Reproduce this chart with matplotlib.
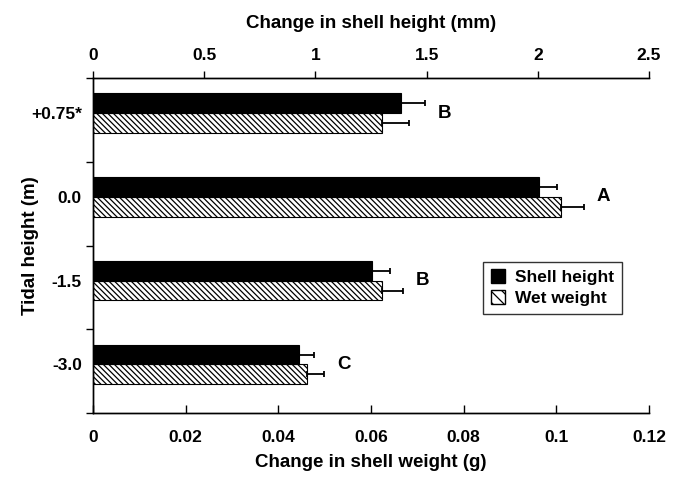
import matplotlib
matplotlib.use("Agg")
import matplotlib.pyplot as plt
import matplotlib.transforms as mtransforms
from matplotlib.patches import Patch
import numpy as np

plt.rcParams['font.family'] = ['Liberation Sans', 'DejaVu Sans']
plt.rcParams['font.weight'] = 'bold'
plt.rcParams['hatch.linewidth'] = 0.9

# Data
tidal_labels = ["+0.75*", "0.0", "-1.5", "-3.0"]
shell_height = [1.387, 2.005, 1.256, 0.926]        # mm (top axis)
shell_height_err = [0.105, 0.082, 0.078, 0.066]
wet_weight = [0.0624, 0.1009, 0.0624, 0.0462]      # g (bottom axis)
wet_weight_err = [0.0058, 0.0050, 0.0045, 0.0037]
letters = ["B", "A", "B", "C"]

height_max = 2.5
weight_max = 0.12
height_ticks = [0, 0.5, 1, 1.5, 2, 2.5]
height_ticklabels = ["0", "0.5", "1", "1.5", "2", "2.5"]
weight_ticks = [0, 0.02, 0.04, 0.06, 0.08, 0.1, 0.12]
weight_ticklabels = ["0", "0.02", "0.04", "0.06", "0.08", "0.1", "0.12"]

fig = plt.figure(figsize=(6.81, 4.8), dpi=100)
ax = fig.add_axes([93 / 681, 1 - 413 / 480, (649 - 93) / 681, (413 - 78) / 480])
ax2 = ax.twiny()

n = len(tidal_labels)
centers = np.arange(n) + 0.42
bh = 0.235

# Hatched bars: wet weight on bottom axis
ax.barh(centers + bh / 2, wet_weight, height=bh, color='white', edgecolor='black',
        hatch='\\' * 6, linewidth=0.8, zorder=2)
ax.errorbar(wet_weight, centers + bh / 2,
            xerr=[np.zeros(n), wet_weight_err], fmt='none', ecolor='black',
            elinewidth=1.3, capsize=2.5, capthick=1.3, zorder=3)

# Black bars: shell height on top axis
ax2.barh(centers - bh / 2, shell_height, height=bh, color='black', edgecolor='black',
         linewidth=0.8, zorder=2)
ax2.errorbar(shell_height, centers - bh / 2,
             xerr=[np.zeros(n), shell_height_err], fmt='none', ecolor='black',
             elinewidth=1.3, capsize=2.5, capthick=1.3, zorder=3)

ax.set_xlim(0, weight_max)
ax2.set_xlim(0, height_max)
ax.set_ylim(4, 0)
ax2.set_ylim(4, 0)

ax.set_xticks(weight_ticks)
ax.set_xticklabels(weight_ticklabels)
ax2.set_xticks(height_ticks)
ax2.set_xticklabels(height_ticklabels)

ax.set_yticks(centers)
ax.set_yticklabels(tidal_labels)
ax.set_yticks([0, 1, 2, 3, 4], minor=True)
ax.tick_params(axis='y', which='major', length=0, labelsize=12.5, pad=8)
ax.tick_params(axis='y', which='minor', direction='out', length=5, width=1)
ax.tick_params(axis='x', direction='in', length=6, width=1, labelsize=12.5, pad=12)
ax2.tick_params(axis='x', direction='out', length=5, width=1, labelsize=12.5, pad=6)

for a in (ax, ax2):
    a.spines['right'].set_visible(False)
    for s in ('left', 'top', 'bottom'):
        a.spines[s].set_linewidth(1.0)

ax.set_xlabel("Change in shell weight (g)", fontsize=13.5, fontweight='bold', labelpad=7)
ax2.set_xlabel("Change in shell height (mm)", fontsize=13.5, fontweight='bold', labelpad=14)
ax.set_ylabel("Tidal height (m)", fontsize=13.5, fontweight='bold')
ax.yaxis.set_label_coords(-0.098, 0.5)

# Significance letters placed to the right of the longest bar+error in each group
trans = mtransforms.blended_transform_factory(ax.transAxes, ax.transData)
for i in range(n):
    f_h = (shell_height[i] + shell_height_err[i]) / height_max
    f_w = (wet_weight[i] + wet_weight_err[i]) / weight_max
    ax.annotate(letters[i], xy=(max(f_h, f_w), centers[i]), xycoords=trans,
                xytext=(14, 0), textcoords='offset points', ha='center', va='center',
                fontsize=13.5, fontweight='bold')

handles = [Patch(facecolor='black', edgecolor='black', label='Shell height'),
           Patch(facecolor='white', edgecolor='black', hatch='\\' * 3, label='Wet weight')]
leg = ax.legend(handles=handles, loc='upper left', bbox_to_anchor=(0.702, 0.452),
                frameon=True, fancybox=False, edgecolor='black', fontsize=12.5,
                handlelength=0.8, handleheight=0.8, handletextpad=0.6,
                borderpad=0.45, labelspacing=0.3, borderaxespad=0)
leg.get_frame().set_linewidth(1.0)

fig.savefig("out.png", dpi=100)
